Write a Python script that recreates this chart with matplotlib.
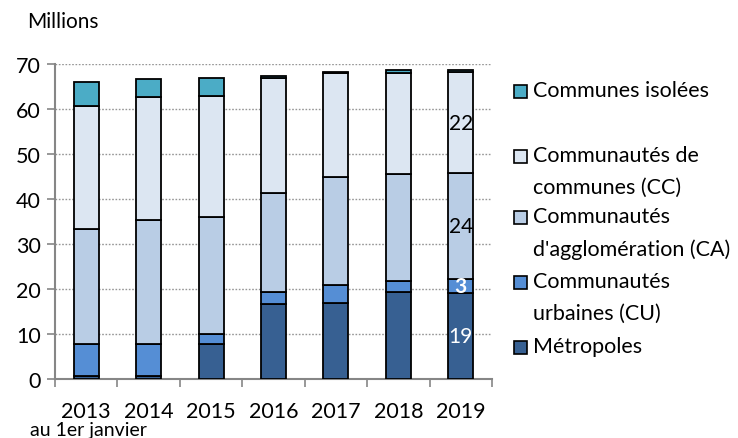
import matplotlib
matplotlib.use("Agg")
import matplotlib.pyplot as plt
from matplotlib.patches import Rectangle
import numpy as np

plt.rcParams['font.family'] = ['Lato', 'DejaVu Sans']

years = ["2013", "2014", "2015", "2016", "2017", "2018", "2019"]
metropoles = [0.7, 0.7, 7.8, 16.7, 17.0, 19.3, 19.2]
cu = [7.1, 7.1, 2.1, 2.7, 4.0, 2.5, 3.0]
ca = [25.5, 27.5, 26.2, 21.9, 23.8, 23.8, 23.6]
cc = [27.3, 27.3, 26.9, 25.7, 23.1, 22.5, 22.4]
isolees = [5.5, 4.1, 4.0, 0.4, 0.4, 0.6, 0.4]

series = [
    ("Métropoles", metropoles, "#376092"),
    ("Communautés\nurbaines (CU)", cu, "#558ED5"),
    ("Communautés\nd'agglomération (CA)", ca, "#B9CDE5"),
    ("Communautés de\ncommunes (CC)", cc, "#DCE6F2"),
    ("Communes isolées", isolees, "#4BACC6"),
]
# labelled values on the last bar: (series index, text colour)
labelled = [(0, "white"), (1, "white"), (2, "black"), (3, "black")]

W, H = 738, 439
fig = plt.figure(figsize=(W / 100, H / 100), dpi=100)
ax = fig.add_axes([55 / W, 59 / H, 437 / W, 315 / H])

x = np.arange(len(years))
bottom = np.zeros(len(years))
for name, vals, col in series:
    vals = np.array(vals)
    ax.bar(x, vals, 0.4, bottom=bottom, color=col, edgecolor="black",
           linewidth=1.3, zorder=3)
    bottom += vals

# value labels on the 2019 bar
last = len(years) - 1
cum = 0.0
for i, (name, vals, col) in enumerate(series):
    v = vals[last]
    for si, tc in labelled:
        if si == i:
            ax.text(x[last], cum + v / 2, f"{v:.0f}", ha="center", va="center",
                    color=tc, fontsize=15, zorder=4,
                    fontweight="bold" if si == 1 else "normal")
    cum += v

ax.set_xlim(-0.5, len(years) - 0.5)
ax.set_ylim(0, 70)
ax.set_yticks(range(0, 71, 10))
ax.set_xticks(x)
ax.set_xticklabels(years)
ax.set_xticks(np.arange(-0.5, len(years), 1), minor=True)
ax.tick_params(axis="x", which="major", length=0, pad=16, labelsize=15.5)
ax.tick_params(axis="x", which="minor", length=6, color="#868686", width=1.2)
ax.tick_params(axis="y", length=6, color="#868686", width=1.2, labelsize=15.5,
               pad=4)
for v in range(10, 71, 10):
    ax.axhline(v, color="#969696", linestyle=(0, (1.2, 1.2)), linewidth=1.0,
               zorder=1)
for s in ["top", "right"]:
    ax.spines[s].set_visible(False)
for s in ["left", "bottom"]:
    ax.spines[s].set_color("#868686")
    ax.spines[s].set_linewidth(1.5)

fig.text(27 / W, 1 - 22 / H, "Millions", fontsize=15, va="center", ha="left")
fig.text(30 / W, 1 - 431 / H, "au 1er janvier", fontsize=14, va="center",
         ha="left")

# legend: square swatch + label, first text line centred on ypix
legend_rows = [
    ("Communes isolées", "#4BACC6", 92),
    ("Communautés de\ncommunes (CC)", "#DCE6F2", 157),
    ("Communautés\nd'agglomération (CA)", "#B9CDE5", 218),
    ("Communautés\nurbaines (CU)", "#558ED5", 283),
    ("Métropoles", "#376092", 348),
]
for label, col, ypix in legend_rows:
    fig.patches.append(Rectangle((514 / W, 1 - (ypix + 7) / H), 13 / W, 13 / H,
                                 transform=fig.transFigure, facecolor=col,
                                 edgecolor="black", linewidth=1.2))
    fig.text(533 / W, 1 - (ypix - 11) / H, label, fontsize=15.5, va="top",
             ha="left", linespacing=1.75, transform=fig.transFigure)

fig.savefig("out.png", dpi=100)
